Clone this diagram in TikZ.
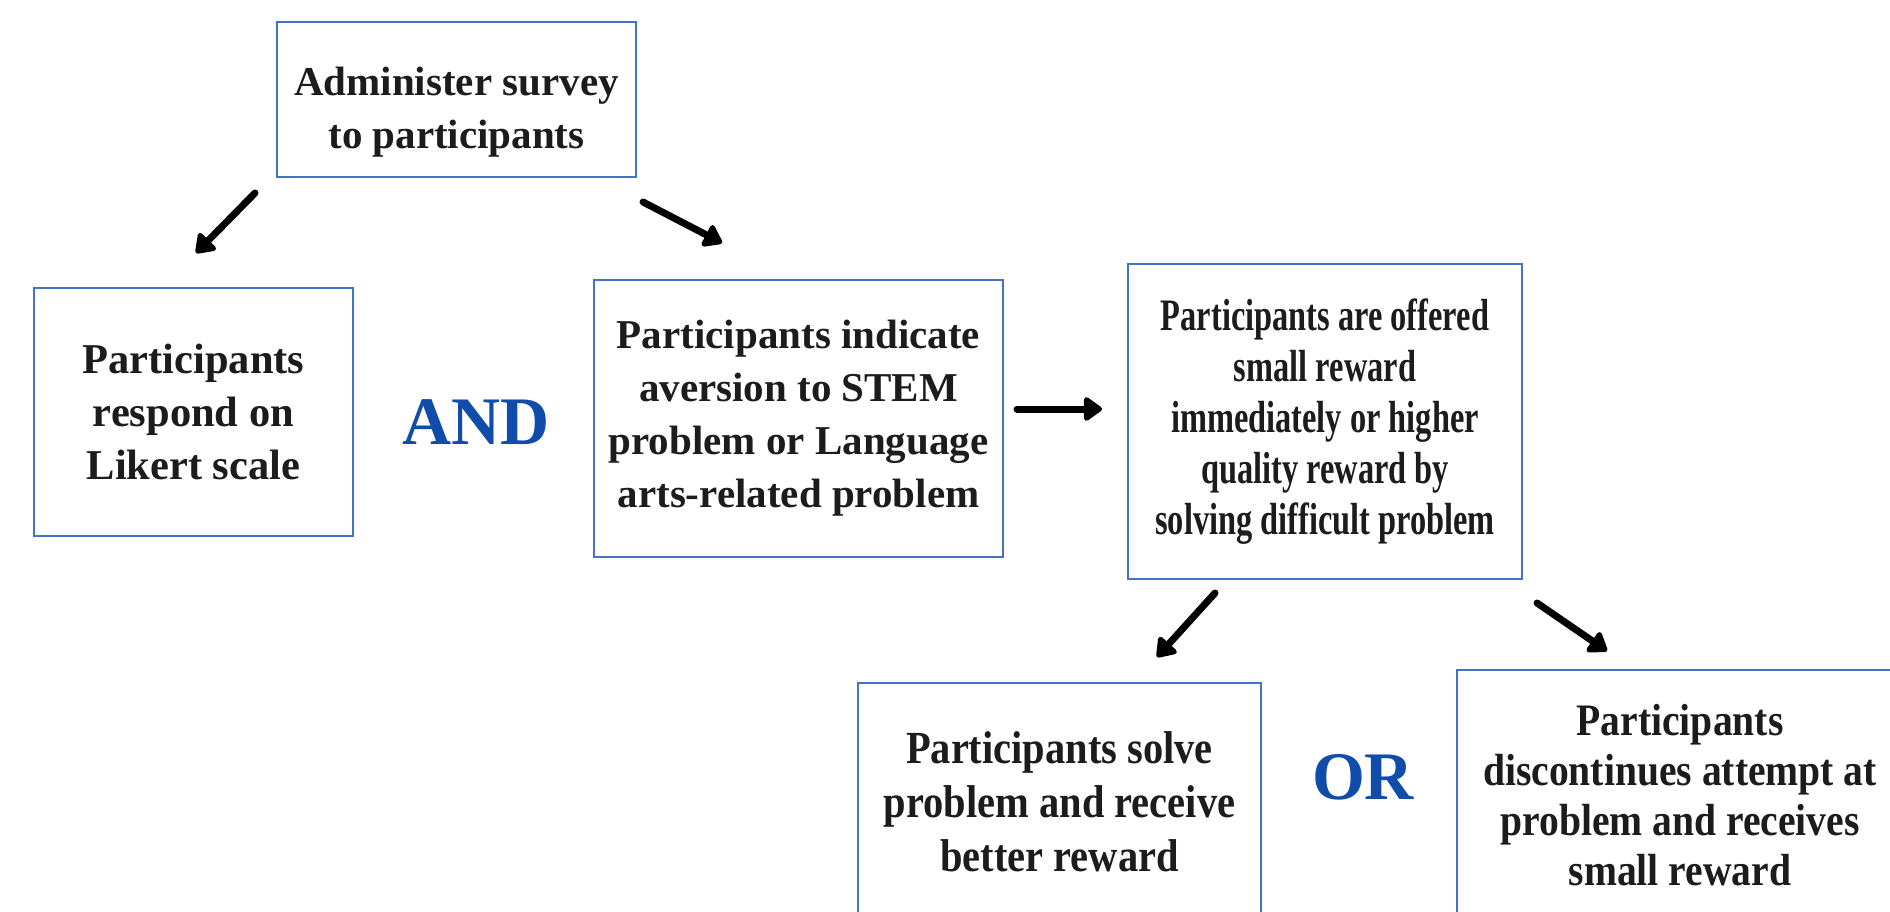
\documentclass[tikz,border=0pt]{standalone}
\usepackage{fontspec}
\setmainfont{Liberation Serif}
\newfontfamily\narrowfont[FakeStretch=0.88]{Liberation Serif}
\newfontfamily\tightfont[FakeStretch=0.72]{Liberation Serif}
\usetikzlibrary{arrows.meta}
\definecolor{boxblue}{RGB}{68,114,196}
\definecolor{wordblue}{RGB}{16,76,170}
\definecolor{inkgrey}{RGB}{28,28,28}
\begin{document}
\begin{tikzpicture}[x=1pt, y=-1pt, >={Triangle[length=20pt, width=27pt, round]}]
	\tikzset{
		stepbox/.style={draw=boxblue, line width=1.6pt, inner sep=0pt, align=center,
				text=inkgrey, font=\bfseries\fontsize{41}{53}\selectfont},
		joinword/.style={text=wordblue, inner sep=0pt, font=\bfseries\fontsize{68}{70}\selectfont},
		flow/.style={->, line width=7pt, line cap=round, black},
	}
	\useasboundingbox (0,0) rectangle (1890,912);
	\clip (0,0) rectangle (1890,912);
	% boxes
	\node[stepbox, minimum width=359pt, minimum height=155pt] (survey) at (456.5,99.5)
		{\rule{0pt}{54pt}Administer survey\\to participants};
	\node[stepbox, minimum width=319pt, minimum height=248pt,
		font=\bfseries\fontsize{42.5}{53}\selectfont] (likert) at (193.5,412)
		{Participants\\respond on\\Likert scale};
	\node[stepbox, minimum width=409pt, minimum height=277pt] (aversion) at (798.5,418.5)
		{Participants indicate\\aversion to STEM\\problem or Language\\arts-related problem};
	\node[stepbox, minimum width=394pt, minimum height=315pt,
		font=\tightfont\bfseries\fontsize{45}{51}\selectfont] (offer) at (1325,421.5)
		{Participants are offered\\small reward\\immediately or higher\\quality reward by\\solving difficult problem};
	\node[stepbox, minimum width=403pt, minimum height=237pt,
		font=\narrowfont\bfseries\fontsize{46}{54}\selectfont] (solve) at (1059.5,801.5)
		{Participants solve\\problem and receive\\better reward};
	\node[stepbox, minimum width=446pt, minimum height=251pt,
		font=\narrowfont\bfseries\fontsize{45}{50}\selectfont] (quit) at (1680,795.5)
		{Participants\\discontinues attempt at\\problem and receives\\small reward};
	% joining words
	\node[joinword] (andword) at (476,422) {AND};
	\node[joinword] (orword) at (1363,777) {OR};
	% arrow ends
	\coordinate (s1) at (255,193);  \coordinate (e1) at (196,253);
	\coordinate (s2) at (643,202);  \coordinate (e2) at (722,243);
	\coordinate (s3) at (1017,409); \coordinate (e3) at (1102,409);
	\coordinate (s4) at (1215,593); \coordinate (e4) at (1157,657);
	\coordinate (s5) at (1537,603); \coordinate (e5) at (1607,651);
	\foreach \i in {1,...,5} {
			\draw[flow] (s\i) -- (e\i);
		}
\end{tikzpicture}
\end{document}
